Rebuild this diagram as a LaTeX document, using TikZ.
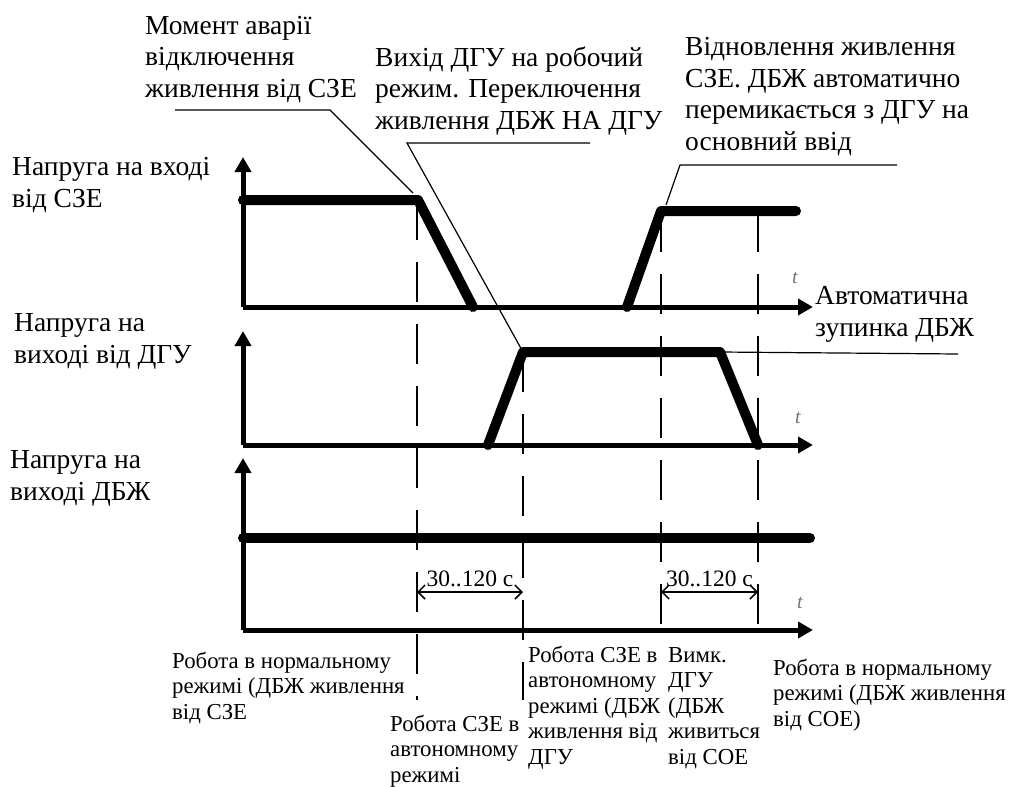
\documentclass[tikz,border=0pt]{standalone}
\usepackage{fontspec}
\setmainfont{Liberation Serif}
\usetikzlibrary{arrows.meta}
\begin{document}
\begin{tikzpicture}[x=1pt,y=-1pt,
  axis/.style={line width=5pt, -{Triangle[length=15pt,width=16pt]}},
  sig/.style={line width=10pt, line cap=round, line join=round},
  guide/.style={line width=1.8pt, dash pattern=on 40pt off 22pt},
  leader/.style={line width=1.2pt},
  dim/.style={line width=1.5pt, {Straight Barb[length=7pt,width=14pt]}-{Straight Barb[length=7pt,width=14pt]}},
  lbl/.style={inner sep=0pt, anchor=base west, align=left, font=\fontsize{27.5}{31.5}\selectfont},
  lbls/.style={inner sep=0pt, anchor=base west, align=left, font=\fontsize{22.8}{25.5}\selectfont},
  tmark/.style={font=\fontsize{20}{20}\selectfont\itshape, text=black!55, inner sep=0pt}
]
\useasboundingbox (0,0) rectangle (1013,787);

% key coordinates
\coordinate (o1) at (243,307);
\coordinate (o2) at (243,445);
\coordinate (o3) at (243,630);
\coordinate (fallA) at (418,200);
\coordinate (fallB) at (473,307);
\coordinate (riseA) at (627,307);
\coordinate (riseB) at (661,211);
\coordinate (dgA) at (488,445);
\coordinate (dgB) at (523,352);
\coordinate (dgC) at (720,352);
\coordinate (dgD) at (758,445);

% dashed guide lines
\draw[guide] (417,200) -- (417,700);
\draw[guide] (523,352) -- (523,700);
\draw[guide] (661,212) -- (661,632);
\draw[guide] (758,212) -- (758,632);

% axes
\draw[axis] (o1) -- (243,157);
\draw[axis] (o1) -- (813,307);
\draw[axis] (o2) -- (243,331);
\draw[axis] (o2) -- (813,445);
\draw[axis] (o3) -- (243,458);
\draw[axis] (o3) -- (813,630);

% signals
\draw[sig] (243,200) -- (fallA) -- (fallB);
\draw[sig] (riseA) -- (riseB) -- (796,211);
\draw[sig] (dgA) -- (dgB) -- (dgC) -- (dgD);
\draw[sig] (243,538) -- (810,538);

% t marks
\node[tmark] (t1) at (795,278) {t};
\node[tmark] (t2) at (798,418) {t};
\node[tmark] (t3) at (800,603) {t};

% labels (base anchor = last line baseline)
\node[lbl] (m1) at (145,97) {Момент аварії\\відключення\\живлення від СЗЕ};
\node[lbl] (m2) at (375,129) {Вихід ДГУ на робочий\\режим. Переключення\\живлення ДБЖ НА ДГУ};
\node[lbl] (m3) at (685,150) {Відновлення живлення\\СЗЕ. ДБЖ автоматично\\перемикається з ДГУ на\\основний ввід};
\node[lbl] (y1) at (12,207) {Напруга на вході\\від СЗЕ};
\node[lbl] (y2) at (14,363) {Напруга на\\виході від ДГУ};
\node[lbl] (y3) at (10,500) {Напруга на\\виході ДБЖ};
\node[lbl] (stop) at (815,336) {Автоматична\\зупинка ДБЖ};

% leaders
\coordinate (k1) at (330,110);
\coordinate (k1e) at (175,110);
\coordinate (k2) at (407,143);
\coordinate (k2e) at (590,143);
\coordinate (k3) at (680,165);
\coordinate (k3e) at (897,165);
\draw[leader] (413,193) -- (k1) -- (k1e);
\draw[leader] (dgB) -- (k2) -- (k2e);
\draw[leader] (666,205) -- (k3) -- (k3e);
\draw[leader] (dgC) -- (958,354);

% dimensions
\draw[dim] (417,592) -- node[above=4pt, font=\fontsize{23.5}{23.5}\selectfont, inner sep=0pt] (d1) {30..120 с} (523,592);
\draw[dim] (661,592) -- node[above=4pt, font=\fontsize{23.5}{23.5}\selectfont, inner sep=0pt] (d2) {30..120 с} (758,592);

% bottom labels
\node[lbls] (b1) at (172,719) {Робота в нормальному\\режимі (ДБЖ живлення\\від СЗЕ};
\node[lbls] (b2) at (390,782) {Робота СЗЕ в\\автономному\\режимі};
\node[lbls] (b3) at (528,764) {Робота СЗЕ в\\автономному\\режимі (ДБЖ\\живлення від\\ДГУ};
\node[lbls] (b4) at (668,764) {Вимк.\\ДГУ\\(ДБЖ\\живиться\\від СОЕ};
\node[lbls] (b5) at (773,726) {Робота в нормальному\\режимі (ДБЖ живлення\\від СОЕ)};
\end{tikzpicture}
\end{document}
